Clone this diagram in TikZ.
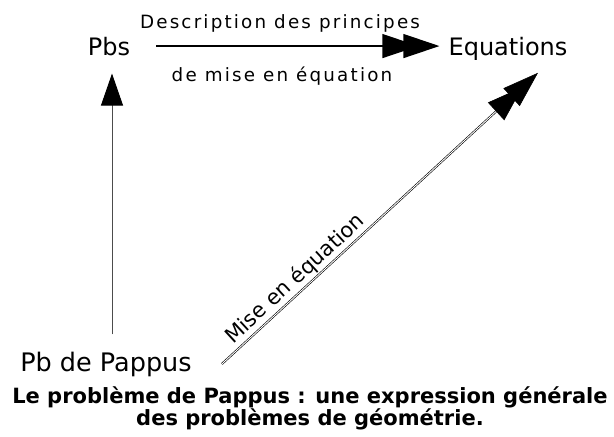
\documentclass[tikz,border=0pt]{standalone}
\usepackage{fontspec}
\setmainfont{DejaVu Sans}
\newfontfamily\spacedfont[LetterSpace=12]{DejaVu Sans}
\usetikzlibrary{arrows.meta}
\tikzset{
  term/.style={inner sep=0pt, anchor=base, font=\fontsize{24}{28}\selectfont},
  bigterm/.style={inner sep=0pt, anchor=base, font=\fontsize{25.5}{30}\selectfont},
  lbl/.style={inner sep=0pt, anchor=base, font=\spacedfont\fontsize{18.3}{22}\selectfont},
  captext/.style={inner sep=0pt, anchor=base, font=\bfseries\fontsize{21}{25}\selectfont},
  dbltip/.style={-{Triangle[length=36pt,width=24pt,sep=-15pt,color=black]Triangle[length=36pt,width=24pt,color=black]}},
  sgltip/.style={-{Triangle[length=32pt,width=22pt,color=black]}},
}
\begin{document}
\begin{tikzpicture}[x=1pt,y=-1pt]
\useasboundingbox (0,0) rectangle (614,437);
\node[term] (pbs) at (109,55) {Pbs};
\node[term] (eq) at (508,55) {Equations};
\node[bigterm] (pap) at (106,371) {Pb de Pappus};
\node[lbl] (l1) at (280,28) {Description des principes};
\node[lbl] (l2) at (282,81) {de mise en équation};
\node[captext] (cap1) at (310,403) {Le problème de Pappus : une expression générale};
\node[captext] (cap2) at (310,425) {des problèmes de géométrie.};

% horizontal arrow
\draw[dbltip, line width=1.2pt] ([xshift=26pt]pbs.east) -- ([xshift=-9pt]pbs.east -| eq.west);
% vertical arrow
\draw[sgltip, line width=0.9pt, black!70] ([xshift=6pt,yshift=17pt]pap.north) -- ([xshift=3pt,yshift=-18pt]pbs.south);
% diagonal arrow
\draw[dbltip, double, double distance=0.9pt, line width=0.6pt] ([xshift=30pt]pap.east) -- ([xshift=30pt,yshift=-12.6pt]eq.south)
  node[pos=0.26, sloped, above=2pt, inner sep=0pt, font=\fontsize{21}{25}\selectfont] (l3) {Mise en équation};
\end{tikzpicture}
\end{document}
